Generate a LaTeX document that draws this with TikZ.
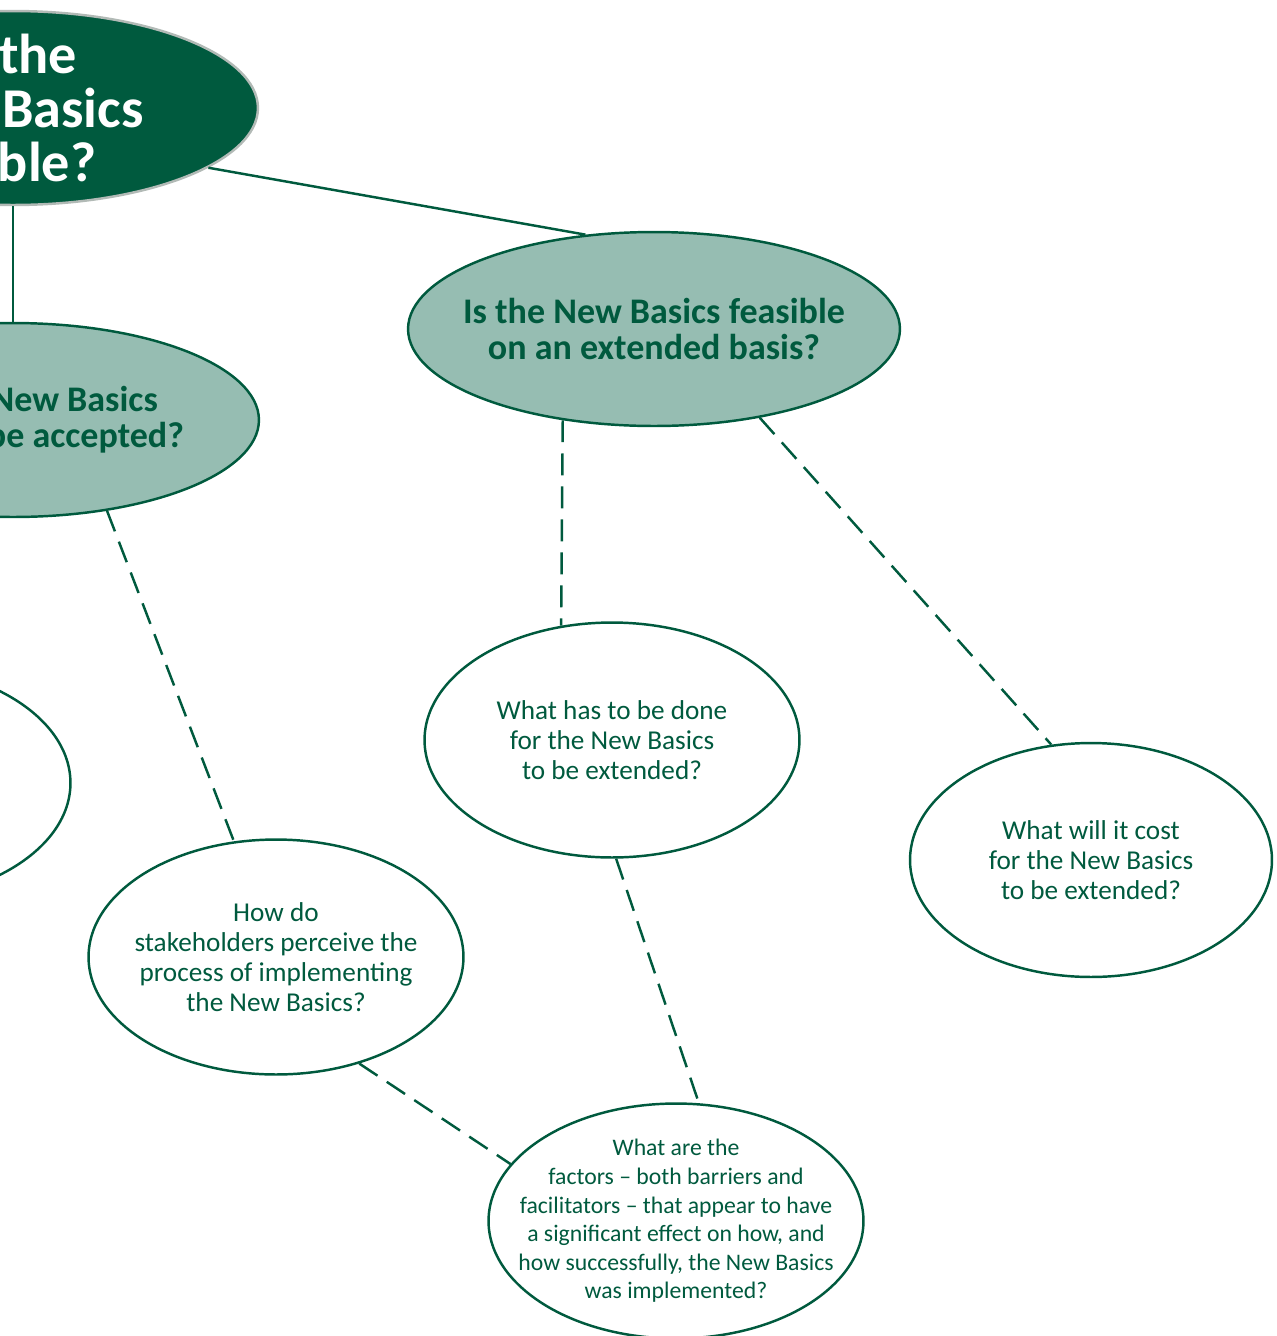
\documentclass[tikz,border=0pt]{standalone}
\usepackage{fontspec}
\setmainfont{Carlito}
\usetikzlibrary{shapes.geometric}
\definecolor{nbgreen}{RGB}{0,90,62}
\definecolor{nbpale}{RGB}{150,189,178}
\definecolor{nbrim}{RGB}{178,186,182}
\tikzset{
  qtop/.style={ellipse, draw=nbrim, line width=1.4pt, fill=nbgreen, text=white, inner sep=-0.6cm,
    minimum width=9.8cm, minimum height=3.88cm, align=center, font=\fontsize{32}{30.7}\selectfont\bfseries},
  qmain/.style={ellipse, draw=nbgreen, line width=1.4pt, fill=nbpale, text=nbgreen, inner sep=-0.6cm,
    minimum width=9.84cm, minimum height=3.88cm, align=center, font=\fontsize{20.5}{20.5}\selectfont\bfseries},
  qsub/.style={ellipse, draw=nbgreen, line width=1.4pt, fill=white, text=nbgreen, inner sep=-0.6cm,
    minimum width=7.5cm, minimum height=4.7cm, align=center, font=\fontsize{15.5}{17}\selectfont},
  link/.style={draw=nbgreen, line width=1.4pt},
  dlink/.style={link, dash pattern=on 12.5pt off 6.3pt}
}
\begin{document}
\begin{tikzpicture}[x=0.02cm, y=-0.02cm]
 \clip (0,0) rectangle (1277,1336);
 \node[qtop] (viable) at (13,108) {Is the\\New Basics\\viable?};
 \node[qmain] (accept) at (13,420) {Can the New Basics\\generally be accepted?};
 \node[qmain] (feasible) at (654,329) {Is the New Basics feasible\\on an extended basis?};
 \node[qsub] (left) at (-117,783) {};
 \node[qsub] (done) at (612,740) {What has to be done\\for the New Basics\\to be extended?};
 \node[qsub, minimum width=7.24cm, minimum height=4.68cm] (cost) at (1091,860) {What will it cost\\for the New Basics\\to be extended?};
 \node[qsub] (perceive) at (276,957) {How do\\stakeholders perceive the\\process of implementing\\the New Basics?};
 \node[qsub, font=\fontsize{13.5}{16.3}\selectfont] (factors) at (676,1221) {What are the\\factors -- both barriers and\\facilitators -- that appear to have\\a significant effect on how, and\\how successfully, the New Basics\\was implemented?};
 \draw[link] (viable.south) -- (accept.north);
 \draw[link] (viable.-17) -- (feasible.126);
 \draw[dlink] (feasible.-135) -- (done.114);
 \draw[dlink] (feasible.-40) -- (cost.109);
 \draw[dlink] (accept.-44) -- (perceive.110);
 \draw[dlink] (done.-88) -- (factors.79);
 \draw[dlink] (perceive.-52) -- (factors.161);
\end{tikzpicture}
\end{document}
